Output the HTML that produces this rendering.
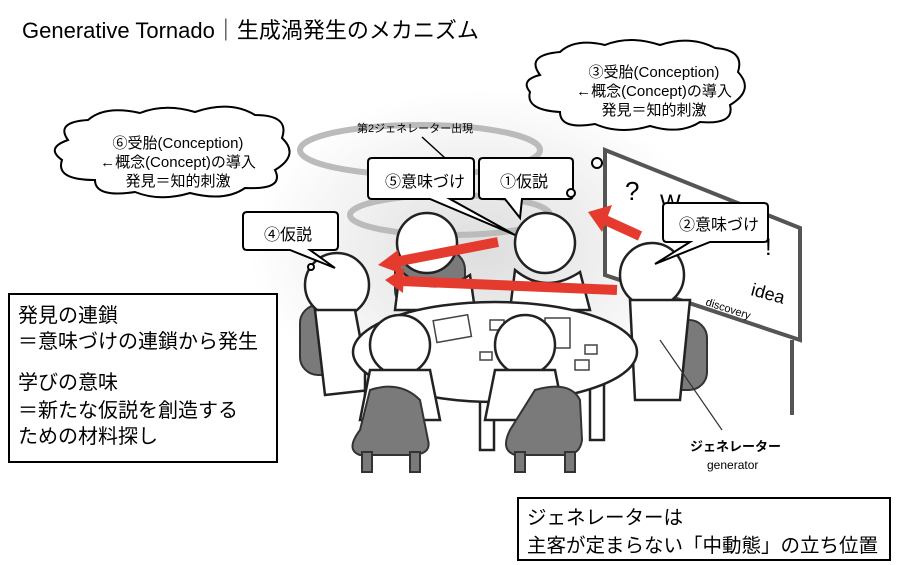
<!DOCTYPE html>
<html><head><meta charset="utf-8"><style>
body{margin:0;width:900px;height:565px;background:#fff;overflow:hidden;font-family:"Liberation Sans","Noto Sans CJK JP",sans-serif;}
svg{position:absolute;left:0;top:0}
text{font-family:"Liberation Sans","Noto Sans CJK JP",sans-serif;fill:#000}
</style></head><body>
<svg width="900" height="565" viewBox="0 0 900 565">
<defs><radialGradient id="g" cx="0.5" cy="0.5" r="0.5"><stop offset="0" stop-color="#ddd"/><stop offset="1" stop-color="#fff"/></radialGradient></defs>
<ellipse cx="480" cy="250" rx="230" ry="160" fill="url(#g)"/>
<g fill="none" stroke="#bbb" stroke-width="6">
<ellipse cx="420" cy="150" rx="120" ry="25"/>
<ellipse cx="450" cy="215" rx="100" ry="20"/>
<ellipse cx="690" cy="265" rx="60" ry="15"/>
</g>
<text x="22" y="38" font-size="22">Generative Tornado｜生成渦発生のメカニズム</text>
<polygon points="605,150 800,228 800,340 605,275" fill="#fff" stroke="#555" stroke-width="4"/>
<line x1="792" y1="340" x2="792" y2="415" stroke="#555" stroke-width="4"/>
<text x="625" y="200" font-size="26" fill="#333">?</text>
<text x="660" y="210" font-size="22" fill="#444">W</text>
<text x="765" y="255" font-size="24" fill="#333">!</text>
<text x="750" y="295" font-size="18" fill="#444" transform="rotate(15 750 295)">idea</text>
<text x="705" y="305" font-size="11" fill="#555" transform="rotate(18 705 305)">discovery</text>
<g fill="#7a7a7a" stroke="#333" stroke-width="2">
<rect x="300" y="305" width="40" height="70" rx="18"/>
<rect x="665" y="320" width="42" height="70" rx="18"/>
<rect x="395" y="250" width="70" height="60" rx="20"/>
</g>
<g fill="#fff" stroke="#222" stroke-width="2.5">
<circle cx="427" cy="243" r="30"/>
<path d="M400 270 Q430 300 470 275 L475 310 L395 310Z"/>
<circle cx="545" cy="243" r="30"/>
<path d="M515 270 Q545 295 580 272 L590 310 L510 310Z"/>
<circle cx="337" cy="285" r="32"/>
<path d="M315 310 L355 310 L370 390 L325 395Z"/>
<circle cx="652" cy="275" r="32"/>
<path d="M630 300 L690 300 L680 400 L635 400Z"/>
</g>
<g stroke="#222" stroke-width="2.5" fill="#fff">
<rect x="365" y="360" width="14" height="70"/>
<rect x="480" y="390" width="14" height="60"/>
<rect x="590" y="370" width="14" height="70"/>
<ellipse cx="495" cy="352" rx="142" ry="50"/>
</g>
<g fill="#fff" stroke="#444" stroke-width="1.5">
<rect x="435" y="318" width="35" height="22" transform="rotate(-10 450 330)"/>
<rect x="490" y="320" width="14" height="10"/>
<rect x="545" y="318" width="25" height="30"/>
<rect x="480" y="352" width="12" height="8"/>
<rect x="585" y="345" width="12" height="9"/>
<rect x="575" y="360" width="14" height="10"/>
</g>
<g fill="#fff" stroke="#222" stroke-width="2.5">
<circle cx="400" cy="345" r="30"/>
<path d="M370 370 L430 370 L440 420 L360 420Z"/>
<circle cx="525" cy="345" r="30"/>
<path d="M495 370 L555 370 L565 420 L485 420Z"/>
</g>
<g fill="#7a7a7a" stroke="#333" stroke-width="2">
<path d="M370 390 Q400 380 420 400 L428 440 Q432 455 410 455 L360 455 Q345 450 360 430Z"/>
<path d="M535 390 Q570 380 580 400 L582 440 Q580 455 565 455 L515 455 Q500 450 510 430Z"/>
<rect x="362" y="452" width="10" height="20"/><rect x="410" y="452" width="10" height="20"/>
<rect x="515" y="452" width="10" height="20"/><rect x="565" y="452" width="10" height="20"/>
</g>
<line x1="660" y1="340" x2="722" y2="430" stroke="#333" stroke-width="1.2"/>
<text x="690" y="451" font-size="13" fill="#333" font-weight="bold">ジェネレーター</text>
<text x="707" y="469" font-size="12" fill="#555">generator</text>
<g stroke="#e53a2e" stroke-width="10" fill="#e53a2e">
<line x1="640" y1="236" x2="605" y2="220"/>
<line x1="498" y1="242" x2="395" y2="262"/>
<line x1="617" y1="290" x2="400" y2="281"/>
</g>
<g fill="#e53a2e">
<polygon points="588,212 612,205 602,232"/>
<polygon points="378,265 398,250 402,274"/>
<polygon points="385,280 404,268 403,293"/>
</g>
<g fill="#fff" stroke="#000" stroke-width="2">
<path d="M540,75 Q525,55 560,52 Q575,38 605,45 Q630,35 660,45 Q690,35 715,48 Q745,50 738,72 Q755,90 730,105 Q735,125 700,122 Q680,135 650,126 Q620,135 595,124 Q560,130 560,112 Q525,110 530,92 Q520,80 540,75Z"/>
<path d="M68,140 Q55,122 88,120 Q105,105 140,113 Q165,103 195,112 Q230,100 255,115 Q290,115 282,138 Q300,155 275,170 Q285,190 245,188 Q225,202 190,193 Q160,202 135,192 Q95,198 95,180 Q55,180 62,160 Q45,148 68,140Z"/>
<circle cx="597" cy="163" r="5"/>
</g>
<text font-size="15" text-anchor="middle"><tspan x="654" y="77">③受胎(Conception)</tspan><tspan x="654" y="96">←概念(Concept)の導入</tspan><tspan x="654" y="115">発見＝知的刺激</tspan></text>
<text font-size="15" text-anchor="middle"><tspan x="178" y="148">⑥受胎(Conception)</tspan><tspan x="178" y="167">←概念(Concept)の導入</tspan><tspan x="178" y="186">発見＝知的刺激</tspan></text>
<text x="357" y="132" font-size="11">第2ジェネレーター出現</text>
<line x1="422" y1="137" x2="445" y2="158" stroke="#000" stroke-width="1.5"/>
<g fill="#fff" stroke="#000" stroke-width="2">
<path d="M372,158 H470 Q474,158 474,162 V195 Q474,199 470,199 H450 L515,235 L430,199 H372 Q368,199 368,195 V162 Q368,158 372,158Z"/>
<path d="M483,158 H569 Q573,158 573,162 V195 Q573,199 569,199 H522 L520,218 L505,199 H483 Q479,199 479,195 V162 Q479,158 483,158Z"/>
<path d="M247,212 H334 Q338,212 338,216 V246 Q338,250 334,250 H310 L335,268 L290,250 H247 Q243,250 243,246 V216 Q243,212 247,212Z"/>
<path d="M667,203 H764 Q768,203 768,207 V238 Q768,242 764,242 H710 L655,264 L690,242 H667 Q663,242 663,238 V207 Q663,203 667,203Z"/>
<circle cx="571" cy="193" r="4"/><circle cx="311" cy="267" r="3"/>
</g>
<text font-size="16"><tspan x="385" y="187">⑤意味づけ</tspan><tspan x="500" y="187">①仮説</tspan><tspan x="264" y="240">④仮説</tspan><tspan x="679" y="230">②意味づけ</tspan></text>
<rect x="9" y="294" width="268" height="168" fill="#fff" stroke="#000" stroke-width="2"/>
<text font-size="20"><tspan x="18" y="322">発見の連鎖</tspan><tspan x="18" y="348">＝意味づけの連鎖から発生</tspan><tspan x="18" y="389">学びの意味</tspan><tspan x="18" y="417">＝新たな仮説を創造する</tspan><tspan x="18" y="443">ための材料探し</tspan></text>
<rect x="518" y="498" width="372" height="62" fill="#fff" stroke="#000" stroke-width="2"/>
<text font-size="19.5"><tspan x="527" y="524">ジェネレーターは</tspan><tspan x="527" y="552">主客が定まらない「中動態」の立ち位置</tspan></text>
</svg>
</body></html>
